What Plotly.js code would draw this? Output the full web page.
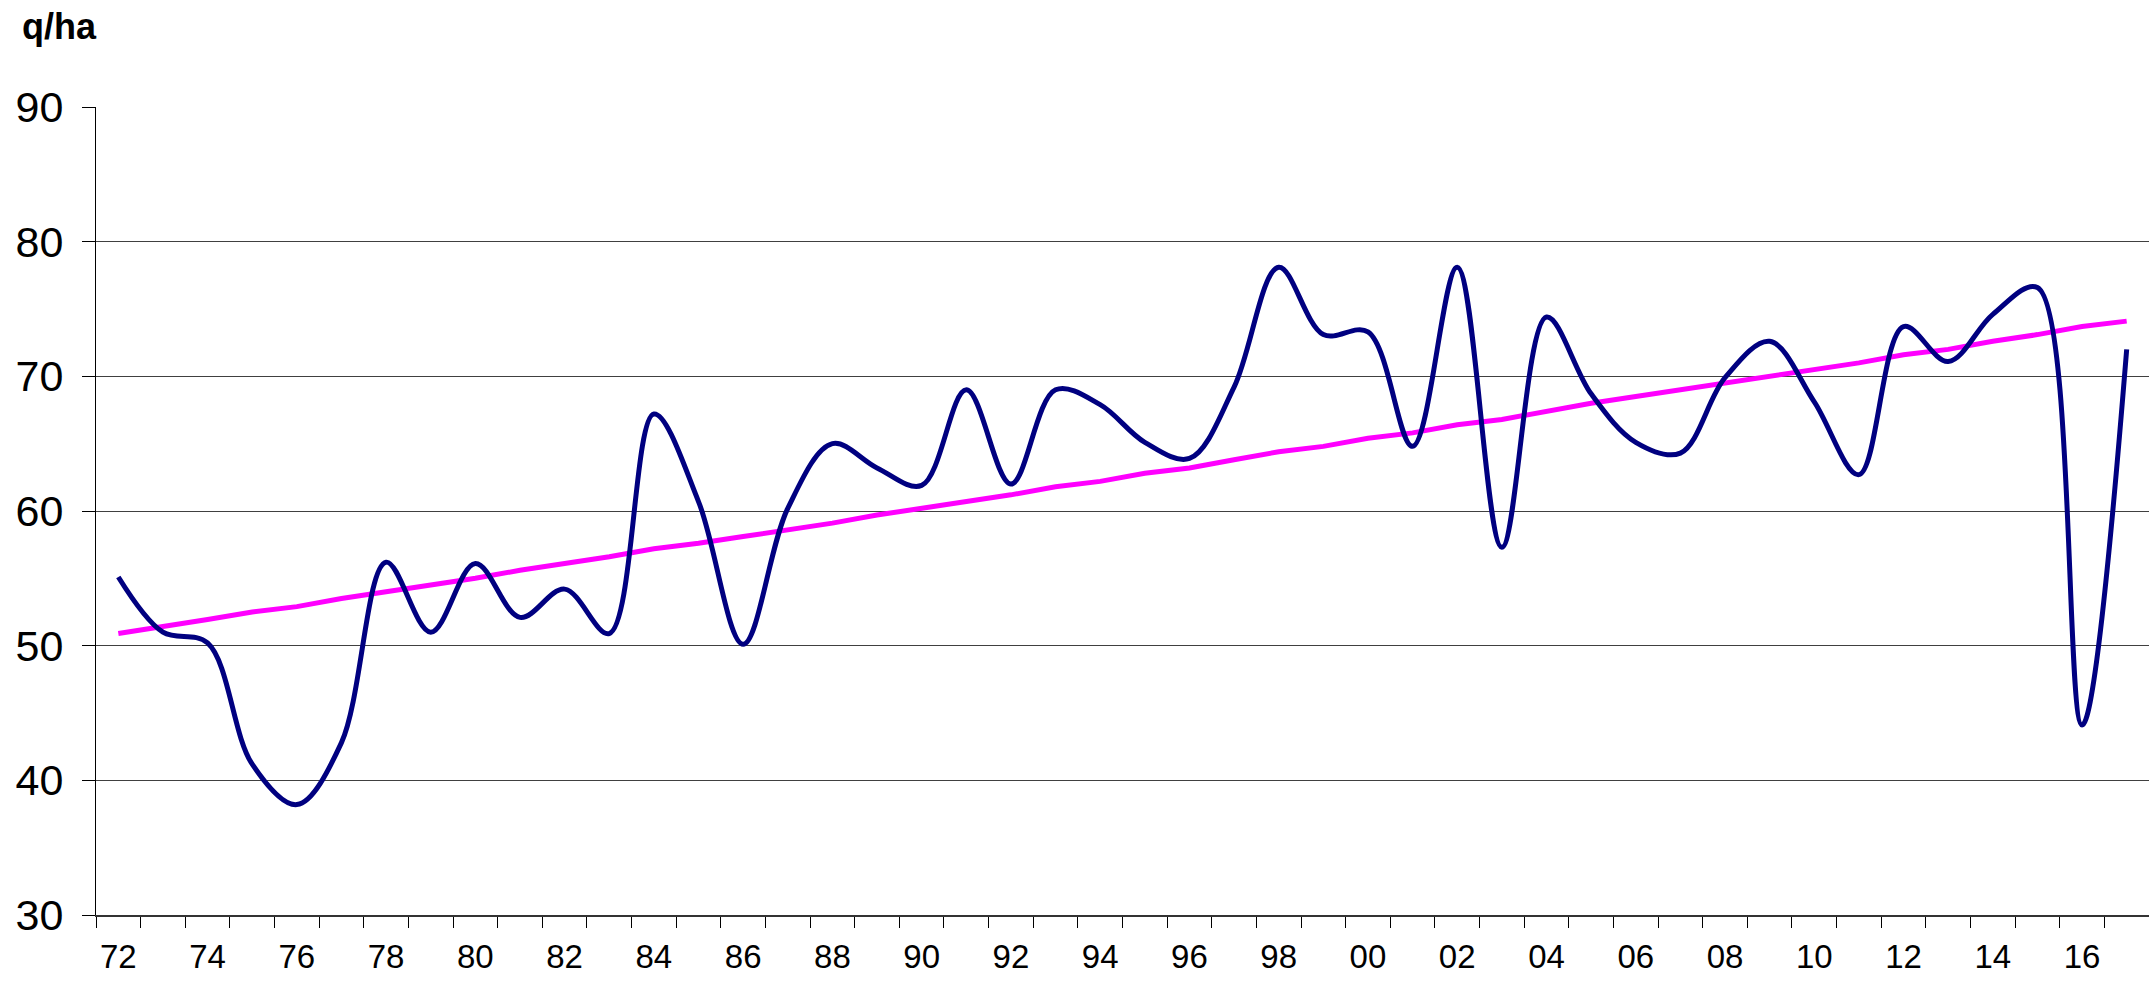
<!DOCTYPE html>
<html>
<head>
<meta charset="utf-8">
<script src="https://cdn.plot.ly/plotly-3.0.1.min.js"></script>
<style>
  html, body { margin: 0; padding: 0; background: #fff; }
  #plotArea { width: 2149px; height: 983px; }
</style>
</head>
<body>
<div id="plotArea"></div>
<script>
// Yields in q/ha, one value per year, 1972-2017
var years = [1972, 1973, 1974, 1975, 1976, 1977, 1978, 1979, 1980, 1981,
             1982, 1983, 1984, 1985, 1986, 1987, 1988, 1989, 1990, 1991,
             1992, 1993, 1994, 1995, 1996, 1997, 1998, 1999, 2000, 2001,
             2002, 2003, 2004, 2005, 2006, 2007, 2008, 2009, 2010, 2011,
             2012, 2013, 2014, 2015, 2016, 2017];

var yieldValues = [55.1, 51.0, 50.2, 41.2, 38.2, 42.8, 56.2, 51.0, 56.1, 52.1,
                   54.2, 50.9, 67.2, 60.7, 50.1, 60.2, 65.0, 63.2, 61.9, 69.0,
                   62.0, 69.0, 67.9, 65.1, 63.9, 69.2, 78.1, 73.1, 73.3, 64.8,
                   78.1, 57.3, 74.4, 68.7, 65.1, 64.3, 69.9, 72.6, 68.1, 62.7,
                   73.7, 71.1, 74.6, 76.6, 44.1, 72.0];

var trendValues = [50.9, 51.4, 51.95, 52.5, 52.9, 53.5, 54.0, 54.5, 55.0, 55.6,
                   56.1, 56.6, 57.2, 57.6, 58.1, 58.6, 59.1, 59.7, 60.2, 60.7,
                   61.2, 61.8, 62.2, 62.8, 63.2, 63.8, 64.4, 64.8, 65.4, 65.8,
                   66.4, 66.8, 67.4, 68.0, 68.5, 69.0, 69.5, 70.0, 70.5, 71.0,
                   71.6, 72.0, 72.6, 73.1, 73.7, 74.1];

var tickYears = [1972, 1974, 1976, 1978, 1980, 1982, 1984, 1986, 1988, 1990,
                 1992, 1994, 1996, 1998, 2000, 2002, 2004, 2006, 2008, 2010,
                 2012, 2014, 2016];
var tickLabels = ["72", "74", "76", "78", "80", "82", "84", "86", "88", "90",
                  "92", "94", "96", "98", "00", "02", "04", "06", "08", "10",
                  "12", "14", "16"];

var yieldTrace = {
  x: years,
  y: yieldValues,
  type: "scatter",
  mode: "lines",
  line: {color: "#000080", width: 5, shape: "spline", smoothing: 1},
  hoverinfo: "x+y"
};

var trendTrace = {
  x: years,
  y: trendValues,
  type: "scatter",
  mode: "lines",
  line: {color: "#FF00FF", width: 5},
  hoverinfo: "x+y"
};

var layout = {
  width: 2149,
  height: 983,
  margin: {l: 96, r: 0, t: 107, b: 68},
  paper_bgcolor: "#ffffff",
  plot_bgcolor: "#ffffff",
  showlegend: false,
  font: {family: "Liberation Sans, Arial, sans-serif", color: "#000"},
  xaxis: {
    range: [1971.5, 2017.5],
    tickvals: tickYears,
    ticktext: tickLabels,
    ticks: "",
    ticklabelstandoff: 11,
    tickfont: {size: 33, color: "#000"},
    showgrid: false,
    zeroline: false,
    showline: true,
    linecolor: "#333",
    linewidth: 2,
    minor: {
      tick0: 1971.5,
      dtick: 1,
      ticks: "outside",
      ticklen: 11,
      tickcolor: "#000",
      tickwidth: 1,
      showgrid: false
    }
  },
  yaxis: {
    range: [30, 90],
    dtick: 10,
    ticks: "outside",
    ticklen: 13,
    tickcolor: "#000",
    tickwidth: 1,
    ticklabelstandoff: 10,
    tickfont: {size: 43, color: "#000"},
    showgrid: true,
    gridcolor: "#404040",
    gridwidth: 1,
    zeroline: false,
    showline: true,
    linecolor: "#000",
    linewidth: 1
  },
  annotations: [{
    text: "<b>q/ha</b>",
    xref: "paper",
    yref: "paper",
    x: -0.037,
    y: 1.127,
    xanchor: "left",
    yanchor: "top",
    showarrow: false,
    font: {size: 36, color: "#000"}
  }]
};

Plotly.newPlot("plotArea", [trendTrace, yieldTrace], layout, {displayModeBar: false, staticPlot: true});
</script>
</body>
</html>
